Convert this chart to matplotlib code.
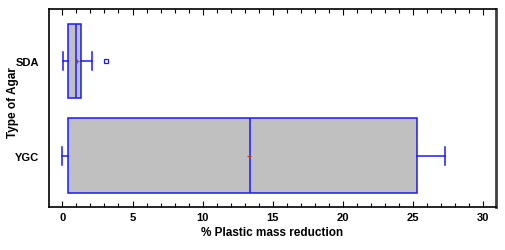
import numpy as np
import matplotlib
matplotlib.use("Agg")
import matplotlib.pyplot as plt
from matplotlib.ticker import MultipleLocator

plt.rcParams['font.family'] = ['Liberation Sans', 'DejaVu Sans']

# values
agar = ["YGC", "SDA"]
whislo = [0.0, 0.02]
q1 = [0.38, 0.43]
med = [13.4, 0.98]
q3 = [25.3, 1.33]
whishi = [27.25, 2.1]
mean = [13.28, 1.07]
fliers = [[], [3.09]]

stats = []
for i in range(len(agar)):
    stats.append(dict(label=agar[i], whislo=whislo[i], q1=q1[i], med=med[i],
                      q3=q3[i], whishi=whishi[i], mean=mean[i], fliers=fliers[i]))

fig = plt.figure(figsize=(5.05, 2.51), dpi=100)
ax = fig.add_axes([49/505, 43/251, 447/505, 198/251])

blue = "#1a1aff"
ax.bxp(stats, positions=[1, 2], vert=False, widths=0.79, patch_artist=True,
       showmeans=True, showcaps=True,
       boxprops=dict(facecolor="#c0c0c0", edgecolor=blue, linewidth=1.1),
       medianprops=dict(color=blue, linewidth=1.1),
       whiskerprops=dict(color=blue, linewidth=1.1),
       capprops=dict(color=blue, linewidth=1.1),
       capwidths=0.19,
       flierprops=dict(marker="s", markersize=2.5, markerfacecolor="none",
                       markeredgecolor=blue, markeredgewidth=0.9),
       meanprops=dict(marker="+", markersize=3, markeredgecolor="#b04020",
                      markeredgewidth=0.8))

ax.set_xlim(-0.95, 30.9)
ax.set_ylim(0.458, 2.55)
ax.xaxis.set_major_locator(MultipleLocator(5))
ax.xaxis.set_minor_locator(MultipleLocator(1))
ax.tick_params(axis="x", which="both", direction="in", top=True, labelsize=8)
ax.tick_params(axis="x", which="major", length=4, width=0.8)
ax.tick_params(axis="x", which="minor", length=3, width=0.8)
ax.tick_params(axis="y", length=0, labelsize=8, pad=7)
for t in ax.get_xticklabels() + ax.get_yticklabels():
    t.set_fontweight("bold")

ax.spines["right"].set_color("#404040")
ax.spines["right"].set_linewidth(2)
for s in ["left", "bottom", "top"]:
    ax.spines[s].set_linewidth(1.2)

ax.set_xlabel("% Plastic mass reduction", fontsize=8.5, fontweight="bold", labelpad=3)
ax.set_ylabel("Type of Agar", fontsize=8.5, fontweight="bold")
ax.yaxis.set_label_coords(-0.066, 0.53)

plt.savefig("out.png", dpi=100)
